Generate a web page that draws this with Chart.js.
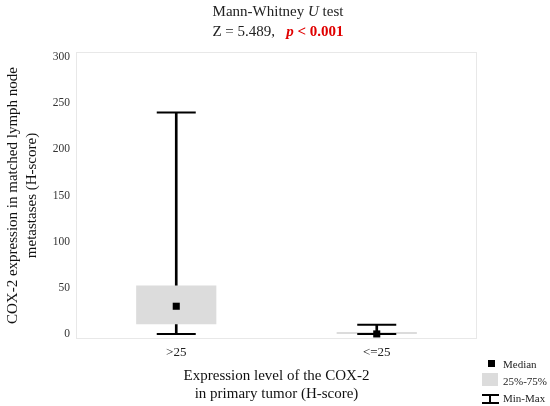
<!DOCTYPE html>
<html><head><meta charset="utf-8">
<script src="https://cdn.jsdelivr.net/npm/chart.js@4.4.1/dist/chart.umd.min.js"></script>
<style>
html,body{margin:0;padding:0;background:#fff;}
#wrap{position:relative;width:550px;height:406px;font-family:'Liberation Serif','Times New Roman',serif;color:#222;}
canvas{position:absolute;left:0;top:0;}
.t{position:absolute;left:0;width:556px;text-align:center;font-size:15px;line-height:18px;white-space:pre;}
.red{color:#e00000;font-weight:bold;}
.lg{position:absolute;font-size:11px;line-height:14px;white-space:pre;}
.sym{position:absolute;}
</style></head>
<body>
<div id="wrap">
<canvas id="c" width="550" height="406"></canvas>
<div class="t" style="top:2px">Mann-Whitney <i>U</i> test</div>
<div class="t" style="top:22px">Z = 5.489,   <span class="red"><i>p</i> &lt; 0.001</span></div>
<div class="sym" style="left:488px;top:360px;width:7px;height:7px;background:#000"></div>
<div class="lg" style="left:503px;top:357px">Median</div>
<div class="sym" style="left:482px;top:373px;width:16px;height:13px;background:#dcdcdc"></div>
<div class="lg" style="left:503px;top:374px">25%-75%</div>
<div class="sym" style="left:482px;top:394px;width:17px;height:2px;background:#000"></div>
<div class="sym" style="left:489px;top:395px;width:2px;height:8px;background:#000"></div>
<div class="sym" style="left:482px;top:402px;width:17px;height:2px;background:#000"></div>
<div class="lg" style="left:503px;top:391px">Min-Max</div>
</div>
<script>
const categories = ['>25', '<=25'];
const minVals = [0, 0];
const q1Vals = [10.5, 0];
const medianVals = [30, 0];
const q3Vals = [52.5, 2];
const maxVals = [240, 10];
const yTicks = [0, 50, 100, 150, 200, 250, 300];

const boxData = categories.map((c, i) => [q1Vals[i], q3Vals[i]]);
const whiskerData = categories.map((c, i) => [minVals[i], maxVals[i]]);

const framePlugin = {
  id: 'frame',
  beforeDatasetsDraw(chart) {
    const {ctx, chartArea: a} = chart;
    ctx.save();
    ctx.strokeStyle = '#e8e8e8';
    ctx.lineWidth = 1;
    ctx.strokeRect(a.left + 0.5, a.top + 0.5, a.width - 1, a.height - 1);
    ctx.restore();
  }
};

const serif = 'Liberation Serif';

new Chart(document.getElementById('c'), {
  type: 'bar',
  data: {
    labels: categories,
    datasets: [
      {
        type: 'line', label: 'Median', data: medianVals, order: 0,
        showLine: false, pointStyle: 'rect', pointRadius: 5, pointHoverRadius: 5,
        pointBackgroundColor: '#000', pointBorderColor: '#000', pointBorderWidth: 0
      },
      {
        type: 'line', label: 'Max', data: maxVals, order: 1,
        showLine: false, pointStyle: 'line', pointRadius: 19.5, pointHoverRadius: 19.5,
        pointBorderColor: '#000', pointBorderWidth: 2
      },
      {
        type: 'line', label: 'Min', data: minVals, order: 1,
        showLine: false, pointStyle: 'line', pointRadius: 19.5, pointHoverRadius: 19.5,
        pointBorderColor: '#000', pointBorderWidth: 2
      },
      {
        type: 'bar', label: '25%-75%', data: boxData, order: 2, grouped: false,
        backgroundColor: '#dcdcdc', borderWidth: 0,
        categoryPercentage: 0.4, barPercentage: 1.0
      },
      {
        type: 'bar', label: 'Min-Max', data: whiskerData, order: 3, grouped: false,
        backgroundColor: '#000', borderWidth: 0, barThickness: 2
      }
    ]
  },
  options: {
    responsive: false,
    animation: false,
    layout: {padding: {top: 52, right: 73, left: 0, bottom: 0}},
    plugins: {legend: {display: false}, title: {display: false}, tooltip: {enabled: false}},
    scales: {
      x: {
        type: 'category', offset: true,
        grid: {display: false, drawTicks: false, tickLength: 0}, border: {display: false},
        ticks: {font: {family: serif, size: 13}, color: '#222', padding: 6},
        title: {
          display: true, text: ['Expression level of the COX-2', 'in primary tumor (H-score)'],
          font: {family: serif, size: 15, lineHeight: 1.2}, color: '#111', padding: {top: 0, bottom: 3}
        },
        afterFit(s) { s.height = 67; }
      },
      y: {
        min: -5.5, max: 305.5,
        grid: {display: false, drawTicks: false, tickLength: 0}, border: {display: false},
        afterBuildTicks(s) { s.ticks = yTicks.map(v => ({value: v})); },
        ticks: {font: {family: serif, size: 11.5}, color: '#333', padding: 6},
        title: {
          display: true, text: ['COX-2 expression in matched lymph node', 'metastases (H-score)'],
          font: {family: serif, size: 15, lineHeight: 1.25}, color: '#111', padding: {top: 4, bottom: 0}
        },
        afterFit(s) { s.width = 76; }
      }
    }
  },
  plugins: [framePlugin]
});
</script>
</body></html>
